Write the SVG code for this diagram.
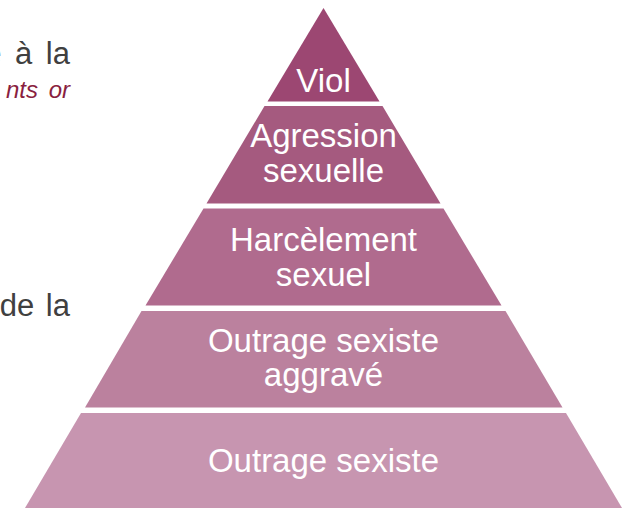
<svg xmlns="http://www.w3.org/2000/svg" width="627" height="508" viewBox="0 0 627 508">
<style>
.lvl{font-family:"Liberation Sans",Arial,sans-serif;font-size:33px;fill:#ffffff;text-anchor:middle}
.body{font-family:"Liberation Sans",Arial,sans-serif;font-size:31px;fill:#404040;text-anchor:end}
.it{font-family:"Liberation Sans",Arial,sans-serif;font-size:24px;font-style:italic;fill:#8a1f3f;text-anchor:end}
</style>
<rect width="627" height="508" fill="#ffffff"/>
<g id="left-text">
<text class="body" x="70" y="64" word-spacing="5">e à la</text>
<text class="it" x="70" y="98" word-spacing="4">nts or</text>
<text class="body" x="70" y="316" word-spacing="3">de la</text>
</g>
<g id="viol">
<polygon points="323.5,8 267.5,101.5 379.5,101.5" fill="#9c4772"/>
<text class="lvl" x="323.5" y="92">Viol</text>
</g>
<g id="agression-sexuelle">
<polygon points="264.5,106 382.5,106 440.5,203.5 206.5,203.5" fill="#a55a7f"/>
<text class="lvl" x="323.5" y="147">Agression</text>
<text class="lvl" x="323.5" y="182">sexuelle</text>
</g>
<g id="harcelement-sexuel">
<polygon points="203.5,208.5 443.5,208.5 501.5,305.5 145.5,305.5" fill="#b06b8e"/>
<text class="lvl" x="323.5" y="251">Harcèlement</text>
<text class="lvl" x="323.5" y="286">sexuel</text>
</g>
<g id="outrage-sexiste-aggrave">
<polygon points="141.5,311 505.5,311 562.5,407.5 85,407.5" fill="#bb819e"/>
<text class="lvl" x="323.5" y="352">Outrage sexiste</text>
<text class="lvl" x="323.5" y="386">aggravé</text>
</g>
<g id="outrage-sexiste">
<polygon points="81,413 566,413 622,508 25,508" fill="#c795b0"/>
<text class="lvl" x="323.5" y="472">Outrage sexiste</text>
</g>
<g id="connectors"/>
</svg>
